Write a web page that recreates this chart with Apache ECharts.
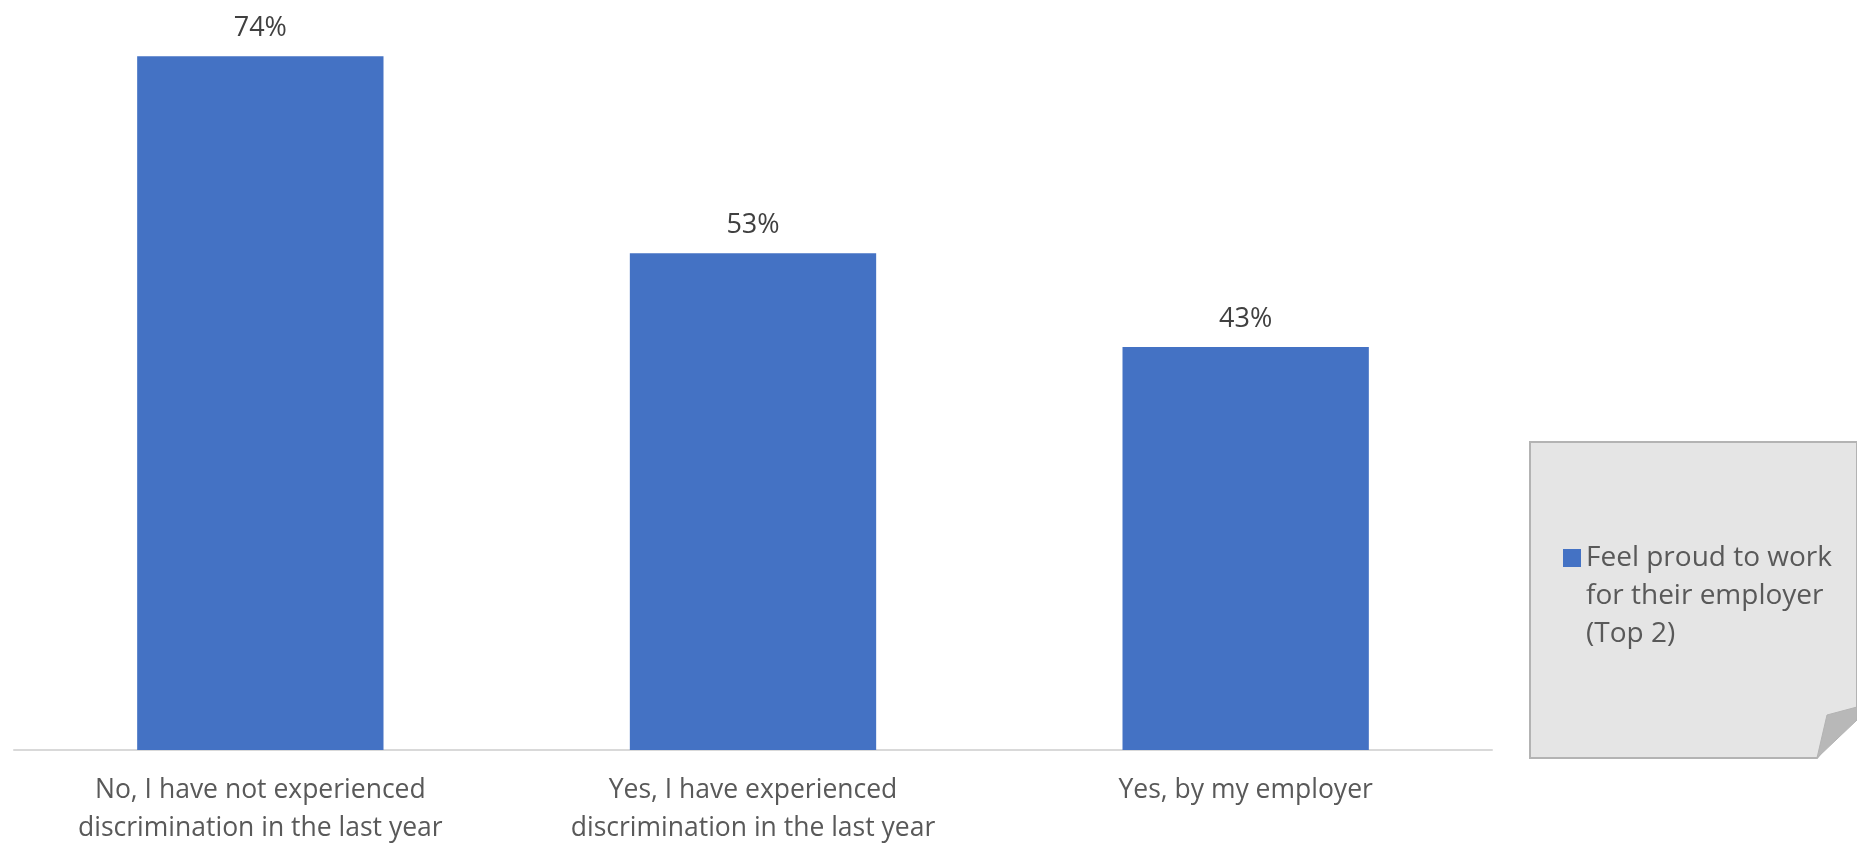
<!DOCTYPE html>
<html><head><meta charset="utf-8">
<script src="https://cdn.jsdelivr.net/npm/echarts@6/dist/echarts.min.js"></script>
<style>html,body{margin:0;padding:0;background:#fff;overflow:hidden}#c{width:1857px;height:843px}</style>
</head><body><div id="c"></div>
<script>
const categories = ["No, I have not experienced\ndiscrimination in the last year", "Yes, I have experienced\ndiscrimination in the last year", "Yes, by my employer"];
const values = [74, 53, 43];
const seriesName = "Feel proud to work\nfor their employer\n(Top 2)";
const FONT = "'Open Sans', sans-serif";

const chart = echarts.init(document.getElementById('c'), null, {width: 1857, height: 843});
chart.setOption({
  animation: false,
  grid: {left: 14, right: 365, top: 0, bottom: 93, containLabel: false, outerBoundsMode: 'none'},
  graphic: [
    {type: 'polygon', z: 0, shape: {points: [[1530,442],[1857,442],[1857,707],[1817,758],[1530,758]]},
     style: {fill: '#e5e5e5', stroke: '#b3b3b3', lineWidth: 2}},
    {type: 'polygon', z: 1, shape: {points: [[1827,715],[1857,707],[1857,720],[1817,758]]},
     style: {fill: '#b8b8b8', stroke: '#b3b3b3', lineWidth: 1}}
  ],
  legend: {
    left: 1563, top: 463, padding: 0,
    itemWidth: 18, itemHeight: 18, icon: 'rect',
    data: [seriesName],
    formatter: n => ' \n \n' + n,
    textStyle: {fontFamily: FONT, fontSize: 28, color: '#595959', lineHeight: 38}
  },
  xAxis: {
    type: 'category', data: categories,
    axisLine: {lineStyle: {color: '#d9d9d9', width: 2}},
    axisTick: {show: false},
    axisLabel: {fontFamily: FONT, fontSize: 26.5, color: '#595959', lineHeight: 38, margin: 21, interval: 0}
  },
  yAxis: {type: 'value', min: 0, max: 80, show: false, splitLine: {show: false}},
  series: [{
    type: 'bar', name: seriesName, data: values, barCategoryGap: '50%',
    itemStyle: {color: '#4472c4'},
    label: {show: true, position: 'top', distance: 14, formatter: '{c}%', fontFamily: FONT, fontSize: 27, color: '#404040'}
  }]
});
</script></body></html>
